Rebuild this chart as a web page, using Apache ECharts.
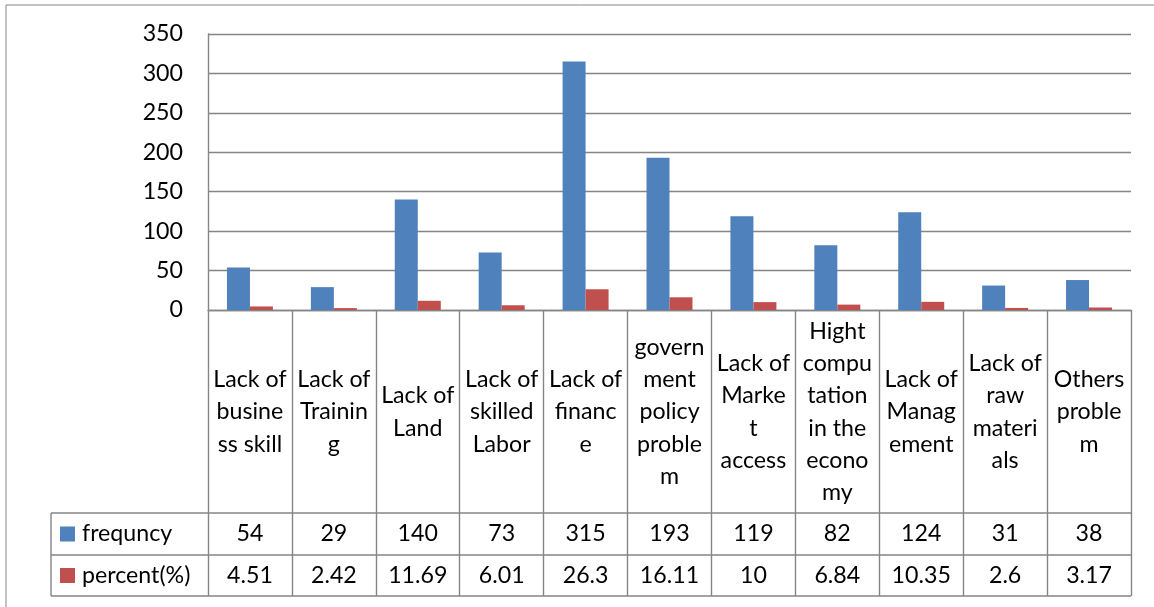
<!DOCTYPE html>
<html>
<head>
<meta charset="utf-8">
<style>
  html, body { margin: 0; padding: 0; background: #fff; }
  #chart { width: 1154px; height: 607px; }
</style>
<script src="https://cdn.jsdelivr.net/npm/echarts@6/dist/echarts.min.js"></script>
</head>
<body>
<div id="chart"></div>
<script>
// Category labels, wrapped the way they appear in the data table cells
const categories = [
  'Lack of\nbusine\nss skill',
  'Lack of\nTrainin\ng',
  'Lack of\nLand',
  'Lack of\nskilled\nLabor',
  'Lack of\nfinanc\ne',
  'govern\nment\npolicy\nproble\nm',
  'Lack of\nMarke\nt\naccess',
  'Hight\ncompu\ntation\nin the\necono\nmy',
  'Lack of\nManag\nement',
  'Lack of\nraw\nmateri\nals',
  'Others\nproble\nm'
];
const frequency = [54, 29, 140, 73, 315, 193, 119, 82, 124, 31, 38];
const percent = [4.51, 2.42, 11.69, 6.01, 26.3, 16.11, 10, 6.84, 10.35, 2.6, 3.17];
const yTicks = { min: 0, max: 350, interval: 50 };

const FONT = 'Lato';
const FS = 23.2;
const LINE = '#858585';
const LW = 1.4;
const BLUE = '#4F81BD';
const RED = '#C0504D';

// plot / table geometry (pixels)
const G = { left: 208, top: 34, right: 1131, bottom: 310 };
const rowTop = [513, 555, 596];  // borders of the two value rows
const legendLeft = 51;

const chart = echarts.init(document.getElementById('chart'), null, { renderer: 'canvas' });

const hLine = (x1, y, x2) => ({
  type: 'line', silent: true,
  shape: { x1: x1, y1: y, x2: x2, y2: y },
  style: { stroke: LINE, lineWidth: LW }
});

chart.setOption({
  animation: false,
  backgroundColor: '#fff',
  textStyle: { fontFamily: FONT, color: '#000' },
  grid: {
    left: G.left, top: G.top,
    width: G.right - G.left, height: G.bottom - G.top,
    containLabel: false
  },
  legend: {
    orient: 'vertical',
    left: 60, top: 521,
    itemWidth: 15, itemHeight: 15,
    itemGap: 15.5,
    icon: 'rect',
    padding: 0,
    textStyle: { fontFamily: FONT, fontSize: FS, color: '#000', lineHeight: 26, padding: [0, 0, 0, 2] },
    data: ['frequncy', 'percent(%)']
  },
  xAxis: [
    {
      type: 'category',
      data: categories,
      position: 'bottom',
      axisLine: { show: true, lineStyle: { color: LINE, width: LW } },
      axisTick: { show: true, length: rowTop[2] - G.bottom, lineStyle: { color: LINE, width: LW } },
      axisLabel: {
        interval: 0, margin: 102, verticalAlign: 'middle', align: 'center',
        fontFamily: FONT, fontSize: FS, lineHeight: 32.3, color: '#000'
      },
      splitLine: { show: false }
    },
    {
      type: 'category',
      data: categories,
      position: 'bottom',
      offset: rowTop[0] - G.bottom,
      axisLine: { show: false }, axisTick: { show: false },
      axisLabel: {
        interval: 0, margin: (rowTop[1] - rowTop[0]) / 2, verticalAlign: 'middle',
        fontFamily: FONT, fontSize: FS, color: '#000',
        formatter: (v, i) => String(frequency[i])
      }
    },
    {
      type: 'category',
      data: categories,
      position: 'bottom',
      offset: rowTop[1] - G.bottom,
      axisLine: { show: false }, axisTick: { show: false },
      axisLabel: {
        interval: 0, margin: (rowTop[2] - rowTop[1]) / 2, verticalAlign: 'middle',
        fontFamily: FONT, fontSize: FS, color: '#000',
        formatter: (v, i) => String(percent[i])
      }
    }
  ],
  yAxis: {
    type: 'value',
    min: yTicks.min, max: yTicks.max, interval: yTicks.interval,
    axisLine: { show: true, lineStyle: { color: LINE, width: LW } },
    axisTick: { show: false },
    axisLabel: { margin: 25, fontFamily: FONT, fontSize: FS, color: '#000' },
    splitLine: { show: true, lineStyle: { color: LINE, width: LW } }
  },
  series: [
    {
      name: 'frequncy', type: 'bar', xAxisIndex: 0,
      data: frequency, barWidth: 23, barGap: '0%',
      itemStyle: { color: BLUE }
    },
    {
      name: 'percent(%)', type: 'bar', xAxisIndex: 0,
      data: percent, barWidth: 23,
      itemStyle: { color: RED }
    }
  ],
  graphic: [
    // chart frame
    {
      type: 'rect', silent: true,
      shape: { x: 6, y: 5, width: 1300, height: 800 },
      style: { fill: null, stroke: LINE, lineWidth: 1 }
    },
    // data table rows (legend column included)
    hLine(legendLeft, rowTop[0], G.right),
    hLine(legendLeft, rowTop[1], G.right),
    hLine(legendLeft, rowTop[2], G.right),
    {
      type: 'line', silent: true,
      shape: { x1: legendLeft, y1: rowTop[0], x2: legendLeft, y2: rowTop[2] },
      style: { stroke: LINE, lineWidth: LW }
    }
  ]
});
</script>
</body>
</html>
